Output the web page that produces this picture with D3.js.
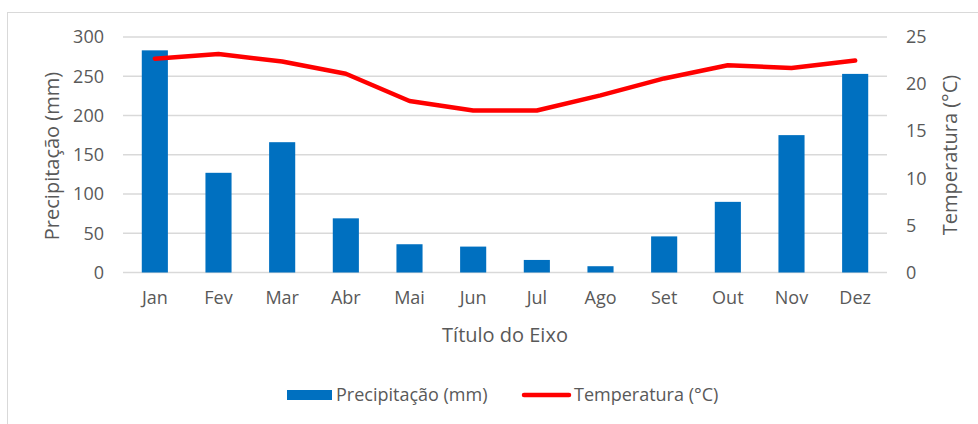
<!DOCTYPE html>
<html>
<head>
<meta charset="utf-8">
<script src="https://cdn.jsdelivr.net/npm/d3@7"></script>
<style>
body { margin: 0; background: #fff; }
text { font-family: "Open Sans", "Liberation Sans", sans-serif; fill: #595959; }
</style>
</head>
<body>
<svg id="chart" width="978" height="424"></svg>
<script>
var months = ["Jan","Fev","Mar","Abr","Mai","Jun","Jul","Ago","Set","Out","Nov","Dez"];
var precip = [283, 127, 166, 69, 36, 33, 16, 8, 46, 90, 175, 253];
var temp = [22.7, 23.2, 22.4, 21.1, 18.2, 17.2, 17.2, 18.8, 20.6, 22.0, 21.7, 22.5];
var precipTicks = [0, 50, 100, 150, 200, 250, 300];
var tempTicks = [0, 5, 10, 15, 20, 25];

var svg = d3.select("#chart");
var plotLeft = 123, plotRight = 887, plotTop = 37, plotBottom = 272.5;
var tickFont = 18, titleFont = 20;

// chart frame
svg.append("rect")
.attr("x", 7.5).attr("y", 12.5)
.attr("width", 975).attr("height", 420)
.attr("fill", "none").attr("stroke", "#d9d9d9");

var x = d3.scaleBand().domain(months).range([plotLeft, plotRight]).paddingInner(0.59).paddingOuter(0.295);
var yP = d3.scaleLinear().domain([0, 300]).range([plotBottom, plotTop]);
var yT = d3.scaleLinear().domain([0, 25]).range([plotBottom, plotTop]);

// gridlines
svg.append("g").selectAll("line").data(precipTicks).enter()
.append("line")
.attr("x1", plotLeft).attr("x2", plotRight)
.attr("y1", function(d) { return yP(d); })
.attr("y2", function(d) { return yP(d); })
.attr("stroke", "#d9d9d9").attr("stroke-width", 1.3);

// bars
svg.append("g").selectAll("rect").data(precip).enter()
.append("rect")
.attr("x", function(d, i) { return x(months[i]); })
.attr("width", x.bandwidth())
.attr("y", function(d) { return yP(d); })
.attr("height", function(d) { return yP(0) - yP(d); })
.attr("fill", "#0070c0");

// temperature line
var line = d3.line()
.x(function(d, i) { return x(months[i]) + x.bandwidth()/2; })
.y(function(d) { return yT(d); });
svg.append("path")
.datum(temp)
.attr("d", line)
.attr("fill", "none")
.attr("stroke", "#ff0000")
.attr("stroke-width", 4.5)
.attr("stroke-linecap", "round")
.attr("stroke-linejoin", "round");

// axes
var axL = d3.axisLeft(yP).tickValues(precipTicks).tickSize(0).tickPadding(19);
var gL = svg.append("g").attr("transform", "translate(" + plotLeft + ",0)").call(axL);
var axR = d3.axisRight(yT).tickValues(tempTicks).tickSize(0).tickPadding(19);
var gR = svg.append("g").attr("transform", "translate(" + plotRight + ",0)").call(axR);
var axB = d3.axisBottom(x).tickSize(0).tickPadding(19);
var gB = svg.append("g").attr("transform", "translate(0," + plotBottom + ")").call(axB);
[gL, gR, gB].forEach(function(g) {
	g.select(".domain").remove();
	g.selectAll("text")
	.attr("font-family", "'Open Sans', 'Liberation Sans', sans-serif")
	.attr("font-size", tickFont)
	.attr("fill", "#595959");
});

// axis titles
svg.append("text")
.attr("transform", "translate(59,156) rotate(-90)")
.attr("text-anchor", "middle")
.attr("font-size", titleFont)
.text("Precipitação (mm)");
svg.append("text")
.attr("transform", "translate(957,155) rotate(-90)")
.attr("text-anchor", "middle")
.attr("font-size", titleFont)
.text("Temperatura (°C)");
svg.append("text")
.attr("x", 505).attr("y", 342)
.attr("text-anchor", "middle")
.attr("font-size", titleFont)
.text("Título do Eixo");

// legend
var leg = svg.append("g").attr("font-size", tickFont);
leg.append("rect")
.attr("x", 287).attr("y", 390).attr("width", 45).attr("height", 10)
.attr("fill", "#0070c0");
leg.append("text").attr("x", 336).attr("y", 401).text("Precipitação (mm)");
leg.append("line")
.attr("x1", 524).attr("x2", 569).attr("y1", 395).attr("y2", 395)
.attr("stroke", "#ff0000").attr("stroke-width", 4.5).attr("stroke-linecap", "round");
leg.append("text").attr("x", 574).attr("y", 401).text("Temperatura (°C)");
</script>
</body>
</html>
